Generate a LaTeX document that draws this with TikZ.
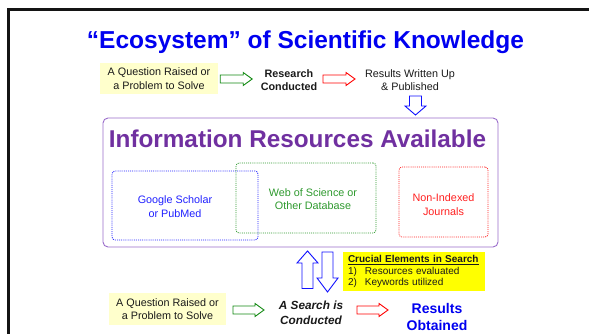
\documentclass[tikz,border=0pt]{standalone}
\usepackage{fontspec}
\setmainfont{Liberation Sans}
\usetikzlibrary{calc}

\definecolor{titleblue}{HTML}{0000F0}
\definecolor{respurple}{HTML}{7030A0}
\definecolor{resborder}{HTML}{9A6CCB}
\definecolor{paleyellow}{HTML}{FFFFCC}
\definecolor{brightyellow}{HTML}{FFFF00}
\definecolor{gsblue}{HTML}{2020FF}
\definecolor{wosgreen}{HTML}{2E9A2E}
\definecolor{nired}{HTML}{FF2020}
\definecolor{arrowgreen}{HTML}{138A13}
\definecolor{arrowred}{HTML}{FF0000}
\definecolor{arrowblue}{HTML}{1010FF}
\definecolor{bodytext}{HTML}{1A1A1A}

% hollow block arrow: style, tail point, direction angle, length,
% half shaft width, half head width, head length
\newcommand{\blockarrow}[7]{%
  \begin{scope}[shift={#2}, rotate=#3]
    \draw[#1] (0,-#5) -- ({#4-#7},-#5) -- ({#4-#7},-#6) -- (#4,0)
      -- ({#4-#7},#6) -- ({#4-#7},#5) -- (0,#5) -- cycle;
  \end{scope}}

\tikzset{
  frame/.style={line width=3pt, draw=black!92},
  titletext/.style={text=titleblue, font=\fontsize{24.5}{28}\selectfont\bfseries, inner sep=0pt},
  softbox/.style={fill=paleyellow, text=bodytext, align=center, inner sep=0pt,
    font=\fontsize{10.8}{13.5}\selectfont},
  plaintext/.style={text=bodytext, align=center, inner sep=0pt,
    font=\fontsize{10.8}{13}\selectfont},
  boldtext/.style={text=bodytext, align=center, inner sep=0pt,
    font=\fontsize{10.8}{13}\selectfont\bfseries},
  searchtext/.style={text=bodytext, align=center, inner sep=0pt,
    font=\fontsize{11.8}{15}\selectfont\bfseries\itshape},
  resulttext/.style={text=titleblue, align=center, inner sep=0pt,
    font=\fontsize{14}{17}\selectfont\bfseries},
  resbox/.style={draw=resborder, line width=0.9pt, rounded corners=5pt, inner sep=0pt},
  restitle/.style={text=respurple, font=\fontsize{24.3}{28}\selectfont\bfseries, inner sep=0pt},
  dotbox/.style={line width=0.8pt, dash pattern=on 1pt off 1.1pt, rounded corners=3pt, inner sep=0pt},
  dottext/.style={align=center, inner sep=0pt, font=\fontsize{10.8}{13.5}\selectfont},
  crucial/.style={fill=brightyellow, text=bodytext, align=left, inner sep=0pt,
    font=\fontsize{10}{11.6}\selectfont},
  greenarrow/.style={draw=arrowgreen, line width=0.9pt, fill=white},
  redarrow/.style={draw=arrowred, line width=0.9pt, fill=white},
  bluearrow/.style={draw=arrowblue, line width=0.9pt, fill=white},
}

\begin{document}
\begin{tikzpicture}[x=1pt, y=-1pt]
  \useasboundingbox (0,0) rectangle (589,334);
  \clip (0,0) rectangle (589,334);
  \fill[white] (0,0) rectangle (589,334);

  % slide frame
  \draw[frame] (600,10) -- (8.5,10) -- (8.5,345);

  % heading
  \node[titletext, anchor=base] (title) at (305.5,48.5) {“Ecosystem” of Scientific Knowledge};

  % upper row: how knowledge is produced
  \node[softbox, minimum width=118pt, minimum height=31pt] (q1) at (159,78.5)
    {A Question Raised or\\a Problem to Solve};
  \node[boldtext] (rc) at (289,80.5) {Research\\Conducted};
  \node[plaintext] (pub) at (410,80) {Results Written Up\\\& Published};

  \blockarrow{greenarrow}{($(q1.east)+(2,0.5)$)}{0}{32}{4}{6.5}{9}
  \blockarrow{redarrow}{(323,79)}{0}{32}{4}{6.5}{9}
  \blockarrow{bluearrow}{(415.5,96)}{-90}{19}{6}{10.5}{9}

  % pool of information resources
  \node[resbox, minimum width=395pt, minimum height=129pt] (res) at (300.5,182.5) {};
  \node[restitle, anchor=base] (restitle) at (297.5,148) {Information Resources Available};

  \node[dotbox, draw=gsblue, minimum width=146pt, minimum height=69pt] (gs) at (185,205.5) {};
  \node[dottext, text=gsblue] (gstext) at (175,206.5) {Google Scholar\\or PubMed};

  \node[dotbox, draw=wosgreen, minimum width=140pt, minimum height=70pt] (wos) at (306,198) {};
  \node[dottext, text=wosgreen] (wostext) at (313,199) {Web of Science or\\Other Database};

  \node[dotbox, draw=nired, minimum width=89pt, minimum height=70pt] (ni) at (443.5,202) {};
  \node[dottext, text=nired] (nitext) at (443.5,204.5) {Non-Indexed\\Journals};

  % exchange between the search and the resources
  \blockarrow{bluearrow}{(307.5,288.5)}{90}{37.5}{5.5}{10.5}{12}
  \blockarrow{bluearrow}{(327.5,252)}{-90}{40}{5.5}{10.5}{14}

  \node[crucial, minimum width=142pt, minimum height=39pt, text width=132pt] (ce) at (414,271.5)
    {\underline{\textbf{Crucial Elements in Search}}\\
     \makebox[17pt][l]{1)}Resources evaluated\\
     \makebox[17pt][l]{2)}Keywords utilized};

  % lower row: how knowledge is found
  \node[softbox, minimum width=117pt, minimum height=32pt] (q2) at (167.5,309)
    {A Question Raised or\\a Problem to Solve};
  \node[searchtext] (search) at (311,312.5) {A Search is\\Conducted};
  \node[resulttext] (found) at (437,316.5) {Results\\Obtained};

  \blockarrow{greenarrow}{(233,310)}{0}{31}{4}{6.5}{9}
  \blockarrow{redarrow}{(357,310)}{0}{31}{4}{6.5}{9}
\end{tikzpicture}
\end{document}
